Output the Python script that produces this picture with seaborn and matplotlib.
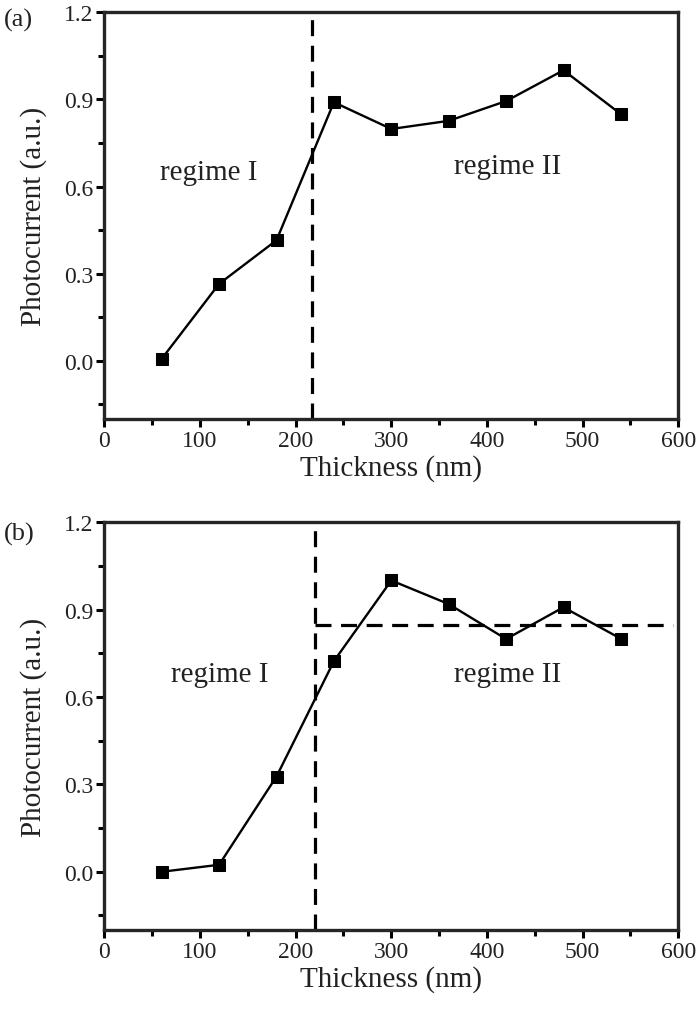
import matplotlib
matplotlib.use('Agg')
import matplotlib.pyplot as plt
import seaborn as sns
import pandas as pd
from matplotlib.ticker import MultipleLocator, FormatStrFormatter

# thickness (nm) and normalised photocurrent for the two samples
thickness = [60, 120, 180, 240, 300, 360, 420, 480, 540]
current_a = [0.007, 0.265, 0.415, 0.89, 0.798, 0.826, 0.894, 1.0, 0.849]
current_b = [0.0, 0.024, 0.327, 0.723, 1.0, 0.919, 0.799, 0.908, 0.80]

boundary_a = 217       # regime border, panel (a)
boundary_b = 220       # regime border, panel (b)
plateau_b = 0.847      # saturation level, panel (b)

panel_tags = ['(a)', '(b)']
regime_labels = ['regime I', 'regime II']

sns.set_style('ticks')
plt.rcParams['font.family'] = ['Liberation Serif', 'DejaVu Serif']
plt.rcParams['text.color'] = '#222222'
plt.rcParams['axes.labelcolor'] = '#222222'
plt.rcParams['xtick.color'] = 'black'
plt.rcParams['ytick.color'] = 'black'
plt.rcParams['xtick.labelcolor'] = '#222222'
plt.rcParams['ytick.labelcolor'] = '#222222'

fig = plt.figure(figsize=(7, 10.12), dpi=100)
ax_a = fig.add_axes([0.149, 0.585, 0.820, 0.402])
ax_b = fig.add_axes([0.149, 0.080, 0.820, 0.403])


def draw_panel(ax, y, boundary, tag, tag_y, label_pos):
    df = pd.DataFrame({'Thickness': thickness, 'Photocurrent': y})
    sns.lineplot(data=df, x='Thickness', y='Photocurrent', ax=ax,
                 color='black', linewidth=1.7, marker='s', markersize=8.5,
                 markeredgecolor='black', markerfacecolor='black')
    ax.axvline(boundary, color='black', linewidth=2.3, dashes=(5, 3))

    ax.set_xlim(0, 600)
    ax.set_ylim(-0.2, 1.2)
    ax.xaxis.set_major_locator(MultipleLocator(100))
    ax.xaxis.set_minor_locator(MultipleLocator(50))
    ax.yaxis.set_major_locator(MultipleLocator(0.3))
    ax.yaxis.set_minor_locator(MultipleLocator(0.15))
    ax.yaxis.set_major_formatter(FormatStrFormatter('%.1f'))

    ax.tick_params(which='major', direction='out', length=6, width=2.2,
                   labelsize=17, pad=2)
    ax.tick_params(which='minor', direction='out', length=4, width=2.2)
    for side in ['left', 'right', 'top', 'bottom']:
        ax.spines[side].set_visible(True)
        ax.spines[side].set_linewidth(2.4)

    ax.set_xlabel('Thickness (nm)', fontsize=21, labelpad=2)
    ax.set_ylabel('Photocurrent (a.u.)', fontsize=21, labelpad=12)

    (x1, y1), (x2, y2) = label_pos
    ax.text(x1, y1, regime_labels[0], fontsize=21, ha='center', va='center')
    ax.text(x2, y2, regime_labels[1], fontsize=21, ha='center', va='center')
    ax.text(-0.175, tag_y, tag, transform=ax.transAxes, fontsize=19,
            ha='left', va='center')


draw_panel(ax_a, current_a, boundary_a, panel_tags[0], 0.982,
           [(109, 0.65), (422, 0.67)])
draw_panel(ax_b, current_b, boundary_b, panel_tags[1], 0.972,
           [(121, 0.68), (422, 0.68)])
ax_b.axhline(plateau_b, xmin=boundary_b / 600, xmax=0.99, color='black',
             linewidth=2.3, dashes=(5, 3))

plt.savefig('out.png', dpi=100)
plt.close()
print("Saved: out.png")
